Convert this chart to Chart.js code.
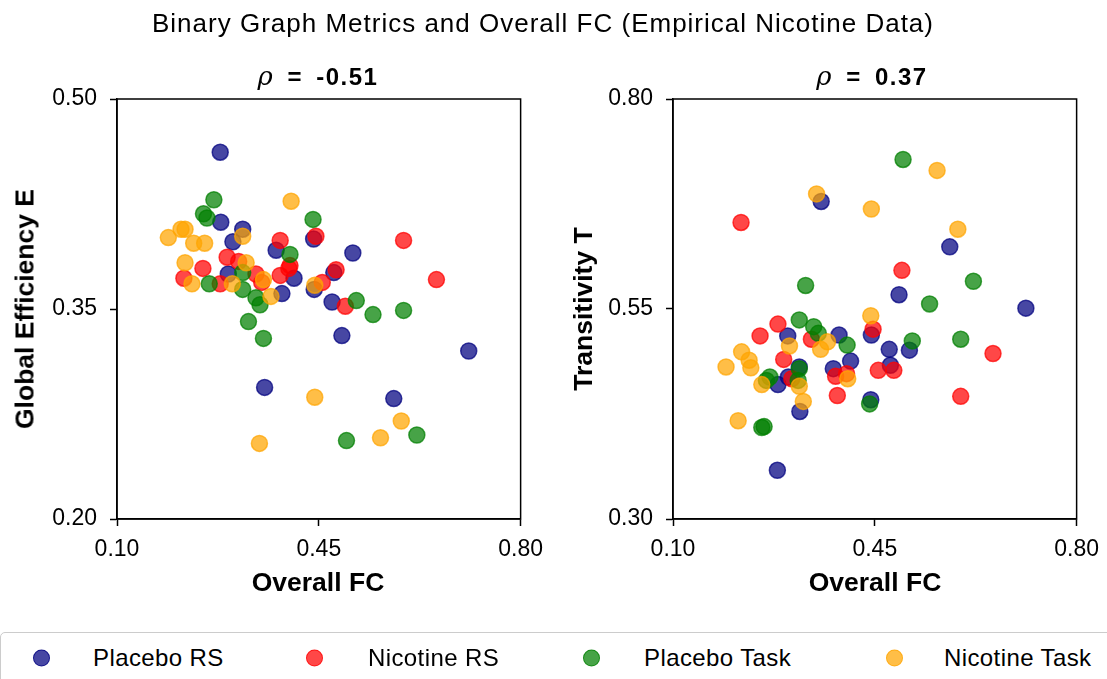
<!DOCTYPE html>
<html>
<head>
<meta charset="utf-8">
<script src="https://cdn.jsdelivr.net/npm/chart.js@4.4.1/dist/chart.umd.min.js"></script>
<style>
  body { margin: 0; background: #fff; }
  #wrap { position: relative; width: 1107px; height: 679px; overflow: hidden; font-family: "Liberation Sans", Arial, sans-serif; color: #000; }
  canvas { position: absolute; top: 0; }
  .txt { position: absolute; white-space: nowrap; transform: translate(-50%, -50%); }
  .bold { font-weight: bold; }
  .rot { transform: translate(-50%, -50%) rotate(-90deg); }
  .rho { font-size: 24px; font-weight: bold; letter-spacing: 1.5px; word-spacing: 5px; }
  .rho i { font-family: "DejaVu Serif", serif; font-weight: normal; font-size: 26px; }
  #legend { position: absolute; left: 0; top: 632px; width: 1120px; height: 60px; border: 1px solid #ccc; border-radius: 5px; box-sizing: border-box; }
  .item { position: absolute; top: 25px; transform: translateY(-50%); font-size: 24px; letter-spacing: 0.4px; display: flex; align-items: center; }
  .dot { width: 15px; height: 15px; border-radius: 50%; display: inline-block; }
</style>
</head>
<body>
<div id="wrap">
  <canvas id="effChart" width="553" height="620" style="left:0"></canvas>
  <canvas id="transChart" width="553" height="620" style="left:556px"></canvas>

  <div class="txt" style="left:543px; top:23px; font-size:26px; letter-spacing:1px;">Binary Graph Metrics and Overall FC (Empirical Nicotine Data)</div>
  <div class="txt rho" style="left:318px; top:76px;"><i>&rho;</i> = -0.51</div>
  <div class="txt rho" style="left:872px; top:76px;"><i>&rho;</i> = 0.37</div>
  <div class="txt bold" style="left:318px; top:582px; font-size:26.5px;">Overall FC</div>
  <div class="txt bold" style="left:875px; top:582px; font-size:26.5px;">Overall FC</div>
  <div class="txt bold rot" style="left:25px; top:309px; font-size:26.5px;">Global Efficiency E</div>
  <div class="txt bold rot" style="left:583px; top:309px; font-size:26.5px;">Transitivity T</div>

  <div id="legend"></div>
</div>

<script>
// 分组名称与颜色
const groups = ['Placebo RS', 'Nicotine RS', 'Placebo Task', 'Nicotine Task'];
const groupColors = ['0, 0, 128', '255, 0, 0', '0, 128, 0', '255, 165, 0'];

// 坐标轴刻度
const fcTicks = [0.10, 0.45, 0.80];
const effTicks = [0.20, 0.35, 0.50];
const transTicks = [0.30, 0.55, 0.80];

// 全局效率 E vs Overall FC, [fc, E]
const placeboRSEff = [[0.279,0.462],[0.280,0.412],[0.318,0.407],[0.301,0.398],[0.376,0.392],[0.441,0.400],[0.509,0.390],[0.476,0.376],[0.407,0.372],[0.293,0.375],[0.386,0.361],[0.442,0.364],[0.473,0.355],[0.490,0.331],[0.710,0.320],[0.356,0.294],[0.580,0.286]];
const nicotineRSEff = [[0.597,0.399],[0.654,0.371],[0.445,0.402],[0.383,0.399],[0.291,0.387],[0.311,0.384],[0.249,0.379],[0.216,0.372],[0.279,0.368],[0.341,0.375],[0.398,0.379],[0.400,0.381],[0.383,0.374],[0.351,0.369],[0.456,0.369],[0.480,0.378],[0.496,0.352]];
const placeboTaskEff = [[0.268,0.428],[0.250,0.418],[0.256,0.415],[0.440,0.414],[0.400,0.389],[0.260,0.368],[0.318,0.376],[0.318,0.364],[0.341,0.358],[0.348,0.353],[0.515,0.356],[0.544,0.346],[0.597,0.349],[0.328,0.341],[0.354,0.329],[0.498,0.256],[0.620,0.260]];
const nicotineTaskEff = [[0.402,0.427],[0.189,0.401],[0.211,0.407],[0.218,0.407],[0.233,0.397],[0.252,0.397],[0.318,0.402],[0.218,0.383],[0.230,0.368],[0.300,0.368],[0.324,0.383],[0.354,0.371],[0.367,0.359],[0.443,0.367],[0.443,0.287],[0.593,0.270],[0.557,0.258],[0.347,0.254]];

// 传递性 T vs Overall FC, [fc, T]
const placeboRSTrans = [[0.357,0.678],[0.580,0.624],[0.492,0.567],[0.712,0.551],[0.299,0.518],[0.388,0.519],[0.444,0.519],[0.475,0.502],[0.510,0.501],[0.408,0.488],[0.378,0.479],[0.477,0.483],[0.319,0.481],[0.300,0.469],[0.282,0.460],[0.443,0.442],[0.320,0.428],[0.281,0.358]];
const nicotineRSTrans = [[0.218,0.653],[0.497,0.596],[0.282,0.532],[0.251,0.518],[0.447,0.526],[0.340,0.514],[0.292,0.490],[0.655,0.497],[0.456,0.477],[0.483,0.477],[0.306,0.467],[0.382,0.470],[0.401,0.473],[0.385,0.447],[0.599,0.446]];
const placeboTaskTrans = [[0.499,0.728],[0.330,0.578],[0.621,0.583],[0.545,0.556],[0.319,0.537],[0.344,0.529],[0.352,0.521],[0.402,0.507],[0.515,0.512],[0.599,0.514],[0.319,0.479],[0.268,0.469],[0.262,0.465],[0.317,0.465],[0.441,0.437],[0.254,0.409],[0.258,0.410]];
const nicotineTaskTrans = [[0.558,0.715],[0.349,0.687],[0.444,0.669],[0.594,0.645],[0.443,0.542],[0.302,0.506],[0.368,0.511],[0.356,0.502],[0.219,0.499],[0.232,0.489],[0.235,0.480],[0.192,0.481],[0.254,0.460],[0.319,0.458],[0.326,0.440],[0.403,0.467],[0.213,0.417]];

const FONT = '"Liberation Sans", Arial, sans-serif';

// 四周边框
const framePlugin = {
    id: 'frame',
    afterDraw(chart) {
        const { ctx, chartArea: a } = chart;
        ctx.save();
        ctx.strokeStyle = '#000';
        ctx.lineWidth = 1.5;
        ctx.strokeRect(a.left, a.top, a.right - a.left, a.bottom - a.top);
        ctx.restore();
    }
};

function makeDatasets(seriesList) {
    return seriesList.map((pts, i) => ({
        label: groups[i],
        data: pts.map(p => ({ x: p[0], y: p[1] })),
        backgroundColor: 'rgba(' + groupColors[i] + ', 0.72)',
        borderColor: 'rgba(' + groupColors[i] + ', 0.72)',
        borderWidth: 1.5,
        pointRadius: 8,
        order: 4 - i
    }));
}

function axisOpts(ticks, min, max, isX) {
    return {
        type: 'linear',
        min: min,
        max: max,
        afterBuildTicks: s => { s.ticks = ticks.map(v => ({ value: v })); },
        afterFit: s => { if (isX) s.height = 101; else s.width = 117; },
        grid: { drawOnChartArea: false, drawTicks: true, tickLength: 7, tickColor: '#000', tickWidth: 1.5 },
        border: { display: true, color: '#000', width: 1.5 },
        ticks: {
            color: '#000',
            padding: isX ? 10 : 13,
            maxRotation: 0,
            font: { family: FONT, size: 23 },
            callback: v => v.toFixed(2)
        }
    };
}

function drawScatter(canvasId, seriesList, yTicks) {
    const ctx = document.getElementById(canvasId);
    return new Chart(ctx, {
        type: 'scatter',
        data: { datasets: makeDatasets(seriesList) },
        options: {
            responsive: false,
            animation: false,
            devicePixelRatio: 1,
            layout: { padding: { left: 0, top: 99, right: 0, bottom: 0 } },
            plugins: { legend: { display: false }, tooltip: { enabled: false } },
            scales: {
                x: axisOpts(fcTicks, 0.10, 0.80, true),
                y: axisOpts(yTicks, yTicks[0], yTicks[yTicks.length - 1], false)
            }
        },
        plugins: [framePlugin]
    });
}

drawScatter('effChart', [placeboRSEff, nicotineRSEff, placeboTaskEff, nicotineTaskEff], effTicks);
drawScatter('transChart', [placeboRSTrans, nicotineRSTrans, placeboTaskTrans, nicotineTaskTrans], transTicks);

// 底部图例
const legendX = [[40, 92], [313, 367], [590, 643], [893, 943]];
const legend = document.getElementById('legend');
groups.forEach((g, i) => {
    const dot = document.createElement('div');
    dot.className = 'item';
    dot.style.left = (legendX[i][0] - 8) + 'px';
    dot.innerHTML = '<span class="dot" style="background:rgba(' + groupColors[i] + ',0.72);border:1px solid rgba(' + groupColors[i] + ',0.72)"></span>';
    legend.appendChild(dot);
    const lab = document.createElement('div');
    lab.className = 'item';
    lab.style.left = legendX[i][1] + 'px';
    lab.textContent = g;
    legend.appendChild(lab);
});
</script>
</body>
</html>
